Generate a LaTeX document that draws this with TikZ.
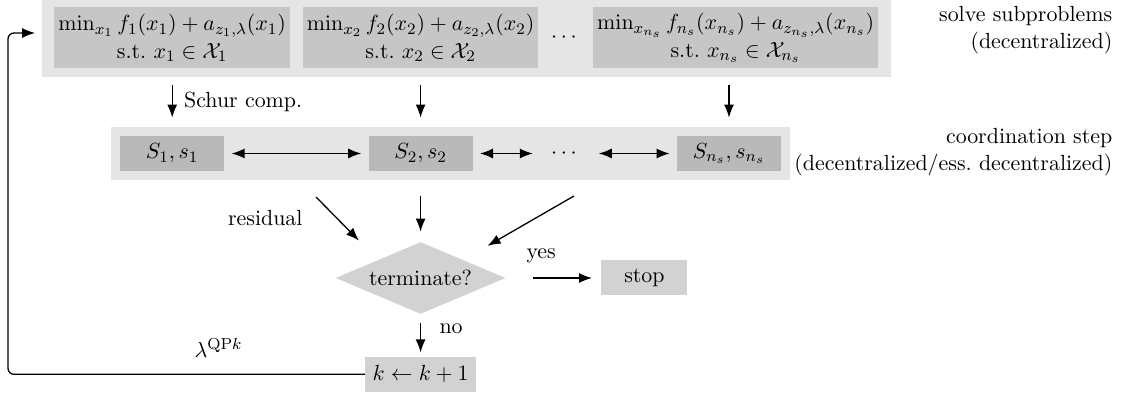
\documentclass[11pt,tikz,border=0pt]{standalone}
\usepackage{amsmath}
\usepackage{amssymb}
\usepackage{tikz}
\usetikzlibrary{arrows.meta, positioning, shapes.geometric, calc, fit, backgrounds}

\begin{document}
\begin{tikzpicture}[
  x=0.5pt, y=-0.5pt,
  node distance=6pt,
  every node/.style={font=\normalsize},
  panel/.style={fill=gray!20, inner xsep=6pt, inner ysep=4pt},
  subprob/.style={fill=gray!45, align=center, inner xsep=2pt, inner ysep=3pt, minimum height=30.5pt},
  coord/.style={fill=gray!55, inner xsep=7pt, minimum width=52pt, minimum height=17.5pt},
  decide/.style={diamond, aspect=2.4, fill=gray!35, inner sep=0pt, minimum width=85pt, minimum height=36pt},
  endbox/.style={fill=gray!35, minimum height=17.5pt},
  arrow/.style={-{Latex[length=6.5pt, width=5pt]}, line width=0.65pt},
  dblarrow/.style={{Latex[length=6.5pt, width=5pt]}-{Latex[length=6.5pt, width=5pt]}, line width=0.65pt},
  note/.style={align=right, anchor=east}
]
\useasboundingbox (0,0) rectangle (1123,394);

% Row 1: subproblems
\node[subprob, anchor=north west] (sub1) at (54,7)
  {$\min_{x_1} f_1(x_1) + a_{z_1,\lambda}(x_1)$\\ s.t.\ $x_1 \in \mathcal{X}_1$};
\node[subprob, right=of sub1] (sub2)
  {$\min_{x_2} f_2(x_2) + a_{z_2,\lambda}(x_2)$\\ s.t.\ $x_2 \in \mathcal{X}_2$};
\node[inner sep=0pt, right=of sub2] (subdots) {$\cdots$};
\node[subprob, right=of subdots] (subn)
  {$\min_{x_{n_s}} f_{n_s}(x_{n_s}) + a_{z_{n_s},\lambda}(x_{n_s})$\\ s.t.\ $x_{n_s} \in \mathcal{X}_{n_s}$};
\node[note] (solvenote) at (1120,30) {solve subproblems\\(decentralized)};

% Row 2: coordination
\coordinate (midrow) at (0,153.5);
\coordinate (sncol) at (729,0);
\node[coord] (s1) at (sub1 |- midrow) {$S_1, s_1$};
\node[coord] (s2) at (sub2 |- midrow) {$S_2, s_2$};
\node[coord] (sn) at (sncol |- midrow) {$S_{n_s}, s_{n_s}$};
\node[inner sep=0pt] (middots) at (subdots |- midrow) {$\cdots$};
\node[note] (coordnote) at (1120,152.5) {coordination step\\(decentralized/ess.\ decentralized)};

\begin{scope}[on background layer]
  \node[panel, fit=(sub1)(subn)] (toppanel) {};
  \node[panel, inner xsep=4.5pt, inner ysep=4.5pt, fit=(s1)(sn)] (midpanel) {};
\end{scope}

\draw[arrow, shorten <=8pt, shorten >=9pt] (sub1.south) -- node[right=2pt] {Schur comp.} (s1.north);
\draw[arrow, shorten <=8pt, shorten >=9pt] (sub2.south) -- (s2.north);
\draw[arrow, shorten <=8pt, shorten >=9pt] (sn |- subn.south) -- (sn.north);

\draw[dblarrow, shorten <=3.5pt, shorten >=3.5pt] (s1) -- (s2);
\draw[dblarrow, shorten <=3.5pt, shorten >=9pt] (s2) -- (middots);
\draw[dblarrow, shorten <=9pt, shorten >=3.5pt] (middots) -- (sn);

% Termination test
\coordinate (termrow) at (0,278);
\node[decide] (term) at (s2 |- termrow) {terminate?};
\coordinate (resin) at (316,197);
\coordinate (solin) at (574,196);
\draw[arrow, shorten >=13.5pt] (resin) -- node[pos=0.33, left=13pt] {residual} (term.north west);
\draw[arrow, shorten <=12.5pt, shorten >=5pt] (s2.south) -- (term.north);
\draw[arrow, shorten >=14pt] (solin) -- (term.north east);

\node[endbox, minimum width=43pt, right=47.5pt of term] (stop) {stop};
\draw[arrow, shorten <=13.5pt, shorten >=4.5pt] (term.east) -- node[above=3.5pt, pos=0.37] {yes} (stop.west);

\node[endbox, minimum width=52pt, below=21pt of term] (kinc) {$k \leftarrow k+1$};
\draw[arrow, shorten <=4.5pt, shorten >=2pt] (term.south) -- node[right=5.5pt, pos=0.35] {no} (kinc.north);

% Loop back
\coordinate (loopcorner) at (8,33);
\coordinate (loopin) at (35,33);
\draw[arrow, rounded corners=3pt] (kinc.west) -| node[pos=0.205, above=4.5pt] {$\lambda^{\mathrm{QP}k}$} (loopcorner) -- (loopin);

\end{tikzpicture}
\end{document}
